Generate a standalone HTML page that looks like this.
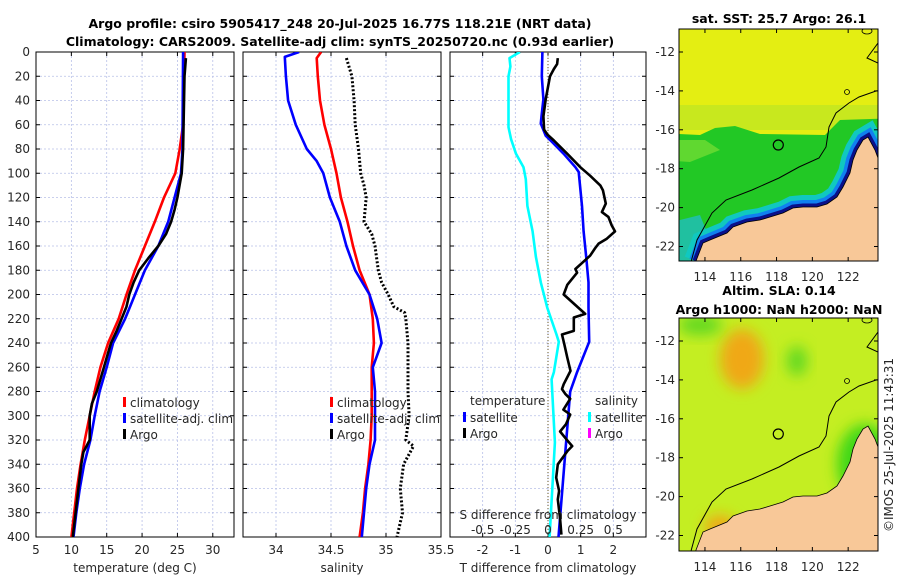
<!DOCTYPE html>
<html><head><meta charset="utf-8">
<style>
body{margin:0;background:#fff;width:900px;height:580px;overflow:hidden;font-family:"DejaVu Sans","Liberation Sans",sans-serif;}
svg text{font-family:"DejaVu Sans","Liberation Sans",sans-serif;fill:#262626;}
.t{font-weight:bold;font-size:12.5px;fill:#000}
.tk{font-size:12px}
</style></head>
<body>
<svg id="fig" width="900" height="580" viewBox="0 0 900 580" xmlns="http://www.w3.org/2000/svg">
<defs>
<clipPath id="c1"><rect x="36" y="52" width="198" height="485"/></clipPath>
<clipPath id="c2"><rect x="243" y="52" width="198" height="485"/></clipPath>
<clipPath id="c3"><rect x="450" y="52" width="196" height="485"/></clipPath>
<clipPath id="m1"><rect x="679" y="29" width="199" height="232"/></clipPath>
<clipPath id="m2"><rect x="679" y="318" width="199" height="233"/></clipPath>
<filter id="bl" x="-50%" y="-50%" width="200%" height="200%"><feGaussianBlur stdDeviation="7"/></filter>
</defs>
<text class="t" x="340" y="28" text-anchor="middle">Argo profile: csiro 5905417_248 20-Jul-2025 16.77S 118.21E (NRT data)</text>
<text class="t" x="340" y="46" text-anchor="middle">Climatology: CARS2009. Satellite-adj clim: synTS_20250720.nc (0.93d earlier)</text>
<g id="maps"></g>
<g id="panels"></g>
<text class="tk" x="0" y="0" transform="translate(893,445) rotate(-90)" text-anchor="middle">©IMOS 25-Jul-2025 11:43:31</text>
</svg>
<script>
// ---- data ----
const depthClim=[0,60,81,100,120,140,160,180,200,220,240,260,280,300,320,340,360,380,400];
const tempClim=[26.0,25.8,25.3,24.7,23.1,21.8,20.4,19.0,17.8,16.7,15.2,14.1,13.3,12.6,11.9,11.3,10.8,10.4,10.0];
const depthSat=[0,81,100,120,140,160,180,200,220,240,260,280,300,320,340,360,380,400];
const tempSat=[25.8,25.7,25.5,24.6,23.7,22.3,20.4,19.0,17.6,15.9,15.0,14.0,13.3,12.7,11.8,11.2,10.7,10.3];
const depthArgoT=[5,20,80,100,120,130,140,150,160,170,180,190,200,210,220,230,240,250,260,280,290,300,320,330,340,360,380,400];
const tempArgo=[26.2,26.0,25.8,25.6,25.0,24.6,24.1,23.4,22.3,20.9,19.6,18.8,18.2,17.8,17.1,16.4,15.6,15.1,14.6,13.6,12.9,12.6,12.6,11.7,11.4,11.0,10.6,10.2];
const depthS=[0,4,20,40,60,80,90,100,120,140,160,180,200,220,240,260,280,300,320,340,360,380,400];
const salSat=[34.21,34.08,34.09,34.11,34.18,34.28,34.37,34.43,34.49,34.58,34.64,34.72,34.85,34.92,34.96,34.88,34.90,34.90,34.90,34.85,34.82,34.80,34.78];
const depthSC=[0,5,20,40,60,80,100,120,140,160,180,200,220,240,260,280,300,320,340,360,380,400];
const salClim=[34.41,34.37,34.38,34.40,34.44,34.50,34.55,34.59,34.65,34.70,34.76,34.85,34.88,34.89,34.87,34.87,34.87,34.86,34.84,34.81,34.79,34.76];
const depthSA=[5,20,40,60,80,100,110,120,130,140,150,160,180,190,200,210,215,220,240,260,280,300,320,325,340,360,380,400];
const salArgo=[34.64,34.69,34.71,34.72,34.75,34.77,34.80,34.82,34.81,34.80,34.87,34.90,34.93,34.96,35.02,35.07,35.17,35.18,35.20,35.20,35.20,35.21,35.18,35.25,35.16,35.13,35.15,35.10];
const depthDT=[0,20,39,53,59,69,73,84,95,99,127,148,169,190,211,239,264,280,400];
const dTsat=[-0.17,-0.19,-0.14,-0.2,-0.22,-0.07,0.08,0.48,0.84,0.94,1.04,1.09,1.17,1.24,1.24,1.26,0.89,0.68,0.32];
const depthDA=[5,10,14,20,39,53,64,68,73,84,95,102,110,114,125,132,136,143,148,154,158,162,168,179,182,192,200,216,219,230,233,241,252,263,274,278,282,286,295,299,307,313,319,325,329,340,351,362,369,385,398];
const dTargo=[0.30,0.28,0.18,0.06,-0.07,-0.14,-0.12,-0.02,0.18,0.59,0.99,1.29,1.60,1.68,1.77,1.65,1.85,1.95,2.05,1.80,1.55,1.44,1.29,0.84,0.89,0.59,0.48,1.14,0.79,0.79,0.43,0.5,0.59,0.69,0.48,0.43,0.53,0.68,0.47,0.68,0.55,0.37,0.55,0.74,0.6,0.3,0.25,0.34,0.3,0.37,0.41];
const depthDS=[0,5,12,20,62,72,84,95,105,127,148,169,190,211,233,239,264,270,322,385,400];
const dSsat=[-0.215,-0.295,-0.2875,-0.3025,-0.3025,-0.2825,-0.245,-0.1875,-0.17,-0.1575,-0.1175,-0.0925,-0.055,-0.005,0.065,0.0825,0.045,0.0275,0.0525,0.02,0.0125];
const yTicks=[0,20,40,60,80,100,120,140,160,180,200,220,240,260,280,300,320,340,360,380,400];
const tTicks=[5,10,15,20,25,30];
const sTicks=[34,34.5,35,35.5];
const dTicks=[-2,-1,0,1,2];
const dsTicks=[-0.5,-0.25,0,0.25,0.5];
const dsLabels=["-0.5","-0.25","0","0.25","0.5"];
const lonTicks=[114,116,118,120,122];
const latTicks=[-12,-14,-16,-18,-20,-22];

const NS="http://www.w3.org/2000/svg";
function mk(tag,attrs,parent){const e=document.createElementNS(NS,tag);for(const k in attrs)e.setAttribute(k,attrs[k]);parent.appendChild(e);return e;}
const Y=d=>52+d*485/400;
const P=[
 {x0:36,w:198,lo:5,hi:33,clip:'c1'},
 {x0:243,w:198,lo:33.7,hi:35.5,clip:'c2'},
 {x0:450,w:196,lo:-3,hi:3,clip:'c3'}];
function X(p,v){return p.x0+(v-p.lo)/(p.hi-p.lo)*p.w;}
const G=document.getElementById('panels');

function axes(p,ticks,labels,name,title){
  const g=mk('g',{},G);
  
  
  for(const d of yTicks){
    const l=mk('line',{x1:p.x0,x2:p.x0+p.w,y1:Y(d),y2:Y(d),stroke:'#b8c0e8','stroke-width':0.8,'stroke-dasharray':'2,2'},g);
    
    
    mk('line',{x1:p.x0,x2:p.x0+4,y1:Y(d),y2:Y(d),stroke:'#000'},g);
    mk('line',{x1:p.x0+p.w-4,x2:p.x0+p.w,y1:Y(d),y2:Y(d),stroke:'#000'},g);
  }
  ticks.forEach((v,i)=>{
    const x=X(p,v);
    if(x>p.x0+1&&x<p.x0+p.w-1){
      const l=mk('line',{x1:x,x2:x,y1:52,y2:537,stroke:'#b8c0e8','stroke-width':0.8,'stroke-dasharray':'2,2'},g);
      
      
    }
    mk('line',{x1:x,x2:x,y1:537,y2:533,stroke:'#000'},g);
    mk('line',{x1:x,x2:x,y1:52,y2:56,stroke:'#000'},g);
    const t=mk('text',{x:x,y:554,'text-anchor':'middle',class:'tk'},g);
    t.textContent=labels[i];
    
    
  });
  const r=mk('rect',{x:p.x0,y:52,width:p.w,height:485,fill:'none',stroke:'#000','stroke-width':1},g);
  
  
  const tt=mk('text',{x:p.x0+p.w/2,y:572,'text-anchor':'middle',class:'tk'},g);
  tt.textContent=title;
  
  
  return g;
}
function line(p,xs,ds,color,name,dash,w){
  const pts=xs.map((v,i)=>X(p,v).toFixed(1)+','+Y(ds[i]).toFixed(1)).join(' ');
  const e=mk('polyline',{points:pts,fill:'none',stroke:color,'stroke-width':w||2.6,'stroke-linejoin':'round','clip-path':'url(#'+p.clip+')'},G);
  if(dash)e.setAttribute('stroke-dasharray',dash);
  
  
}
function legend(x,y,color,label,name){
  const r=mk('rect',{x:x,y:y-10,width:3,height:10,fill:color},G);
  
  
  const t=mk('text',{x:x+7,y:y,class:'tk'},G);
  t.textContent=label;
  
  
}
for(const d of yTicks){
  const t=mk('text',{x:30,y:Y(d)+4,'text-anchor':'end',class:'tk'},G);
  t.textContent=d;
  
  
}
axes(P[0],tTicks,tTicks.map(String),'temperature-axes','temperature (deg C)');
axes(P[1],sTicks,sTicks.map(String),'salinity-axes','salinity');
axes(P[2],dTicks,dTicks.map(String),'difference-axes','T difference from climatology');
const zl=mk('line',{x1:X(P[2],0),x2:X(P[2],0),y1:52,y2:537,stroke:'#6b5a2a','stroke-width':1,'stroke-dasharray':'1,2'},G);



line(P[0],tempClim,depthClim,'#ff0000','temp-climatology-line');
line(P[0],tempSat,depthSat,'#0000ff','temp-satellite-line');
line(P[0],tempArgo,depthArgoT,'#000000','temp-argo-line');
line(P[1],salClim,depthSC,'#ff0000','sal-climatology-line');
line(P[1],salSat,depthS,'#0000ff','sal-satellite-line');
line(P[1],salArgo,depthSA,'#000000','sal-argo-line','2,2',3);
line(P[2],dSsat.map(v=>v*4),depthDS,'#00ffff','sdiff-satellite-line');
line(P[2],dTsat,depthDT,'#0000ff','tdiff-satellite-line');
line(P[2],dTargo,depthDA,'#000000','tdiff-argo-line');

legend(123,407,'#ff0000','climatology','legend-climatology');
legend(123,423,'#0000ff','satellite-adj. clim','legend-satellite');
legend(123,439,'#000000','Argo','legend-argo');
legend(330,407,'#ff0000','climatology','legend2-climatology');
legend(330,423,'#0000ff','satellite-adj. clim','legend2-satellite');
legend(330,439,'#000000','Argo','legend2-argo');
{const t=mk('text',{x:470,y:405,class:'tk'},G);t.textContent='temperature';

}
{const t=mk('text',{x:595,y:405,class:'tk'},G);t.textContent='salinity';

}
legend(463,422,'#0000ff','satellite','legend3-t-satellite');
legend(463,438,'#000000','Argo','legend3-t-argo');
legend(588,422,'#00ffff','satellite','legend3-s-satellite');
legend(588,438,'#ff00ff','Argo','legend3-s-argo');
{const t=mk('text',{x:548,y:519,'text-anchor':'middle',class:'tk'},G);t.textContent='S difference from climatology';

}
dsTicks.forEach((v,i)=>{
  const t=mk('text',{x:X(P[2],v*4),y:534,'text-anchor':'middle',class:'tk'},G);
  t.textContent=dsLabels[i];
  
  
});

// ---- maps ----
const M=document.getElementById('maps');
const coast="36,261 43,243 50,240 67,233 73,227 87,222 100,220 110,217 123,213 133,208 143,207 157,207 167,204 177,197 183,187 190,173 193,160 197,150 203,140 208,137 215,150 218,158 240,158 240,300 30,300";
const shelf="31,262 37,240 52,213 66,200 92,190 119,178 139,167 159,158 166,147 169,127 176,113 189,103 199,97 216,91 240,88";
const LX=lon=>679+(lon-112.55)*17.9;
function drawMap(oy,clip,name,sst){
  const g=mk('g',{'clip-path':'url(#'+clip+')'},M);
  
  
  const top=oy+29;
  const inner=mk('g',{transform:'translate(660,'+oy+')'},g);
  if(sst){
    mk('rect',{x:0,y:0,width:240,height:300,fill:'#e4ee12'},inner);
    mk('rect',{x:0,y:105,width:240,height:25,fill:'#c8e81e'},inner);
    mk('polygon',{points:'0,133 40,135 55,128 75,126 100,134 165,135 180,120 240,118 240,300 0,300',fill:'#22c825'},inner);
    mk('polygon',{points:'0,140 45,140 60,150 30,162 0,160',fill:'#60d830'},inner);
    mk('polygon',{points:'0,225 40,215 50,240 40,270 0,270',fill:'#20c0a0'},inner);
    mk('polyline',{points:coast,fill:'none',stroke:'#10c8c0','stroke-width':24},inner);
    mk('polyline',{points:coast,fill:'none',stroke:'#1080f0','stroke-width':14},inner);
    mk('polyline',{points:coast,fill:'none',stroke:'#0a108a','stroke-width':7},inner);
  } else {
    mk('rect',{x:0,y:0,width:240,height:300,fill:'#c4ee22'},inner);
    mk('ellipse',{cx:82,cy:70,rx:22,ry:30,fill:'#f0a818',filter:'url(#bl)'},inner);
    mk('ellipse',{cx:40,cy:36,rx:22,ry:10,fill:'#60d820',filter:'url(#bl)'},inner);
    mk('ellipse',{cx:137,cy:72,rx:10,ry:15,fill:'#60d820',filter:'url(#bl)'},inner);
    mk('ellipse',{cx:205,cy:175,rx:28,ry:40,fill:'#40d818',filter:'url(#bl)'},inner);
    mk('ellipse',{cx:60,cy:238,rx:16,ry:12,fill:'#f0a818',filter:'url(#bl)'},inner);
  }
  mk('polygon',{points:coast,fill:'#f8c898',stroke:'#000','stroke-width':0.8},inner);
  mk('polyline',{points:shelf,fill:'none',stroke:'#000','stroke-width':1},inner);
  mk('polyline',{points:'218,43 207,58 218,63',fill:'none',stroke:'#000','stroke-width':1},inner);
  mk('ellipse',{cx:207,cy:31,rx:5,ry:3,fill:'none',stroke:'#000','stroke-width':0.8},inner);
  mk('ellipse',{cx:187,cy:92,rx:2.5,ry:2.5,fill:'none',stroke:'#000','stroke-width':0.8},inner);
  const c=mk('circle',{cx:118.3,cy:145,r:5,fill:'none',stroke:'#000','stroke-width':1.2},inner);
  
  
  const h=(sst?232:233);
  mk('rect',{x:679,y:top,width:199,height:h,fill:'none',stroke:'#000','stroke-width':1},M);
  const LY=lat=>top+23+(-12-lat)*19.45;
  for(const la of latTicks){
    mk('line',{x1:679,x2:683,y1:LY(la),y2:LY(la),stroke:'#000'},M);
    mk('line',{x1:874,x2:878,y1:LY(la),y2:LY(la),stroke:'#000'},M);
    const t=mk('text',{x:675,y:LY(la)+4,'text-anchor':'end',class:'tk'},M);
    t.textContent=la;
    
    
  }
  for(const lo of lonTicks){
    mk('line',{x1:LX(lo),x2:LX(lo),y1:top,y2:top+4,stroke:'#000'},M);
    mk('line',{x1:LX(lo),x2:LX(lo),y1:top+h,y2:top+h-4,stroke:'#000'},M);
    const t=mk('text',{x:LX(lo),y:top+h+20,'text-anchor':'middle',class:'tk'},M);
    t.textContent=lo;
    
    
  }
}
drawMap(0,'m1','sst-map',true);
drawMap(289,'m2','sla-map',false);
const mt=[['sat. SST: 25.7 Argo: 26.1',23,'sst-map-title'],['Altim. SLA: 0.14',295,'sla-map-title'],['Argo h1000: NaN h2000: NaN',314,'argo-height-title']];
for(const [s,y,n] of mt){
  const t=mk('text',{x:779,y:y,'text-anchor':'middle',class:'t'},M);
  t.textContent=s;
  
  
}
</script>
</body></html>
